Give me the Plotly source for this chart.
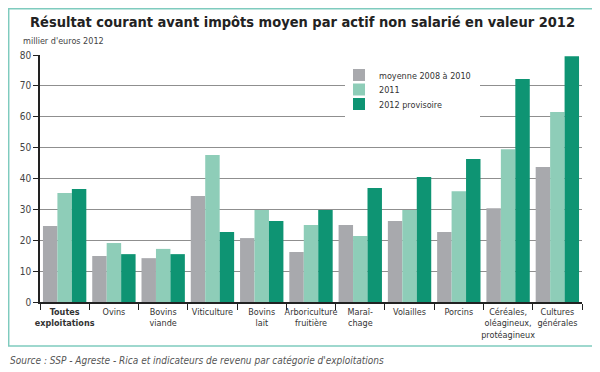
import plotly.graph_objects as go

categories = ["<b>Toutes<br>exploitations</b>", "Ovins", "Bovins<br>viande", "Viticulture", "Bovins<br>lait",
              "Arboriculture<br>fruitière", "Maraî-<br>chage", "Volailles", "Porcins",
              "Céréales,<br>oléagineux,<br>protéagineux", "Cultures<br>générales"]
series_names = ["moyenne 2008 à 2010", "2011", "2012 provisoire"]
moyenne = [24.6, 14.9, 14.2, 34.3, 20.7, 16.2, 24.9, 26.2, 22.7, 30.4, 43.7]
v2011 = [35.3, 19.1, 17.2, 47.6, 29.8, 24.9, 21.4, 29.8, 35.9, 49.5, 61.5]
v2012 = [36.6, 15.5, 15.5, 22.7, 26.2, 29.8, 36.9, 40.5, 46.3, 72.2, 79.6]
colors = ["#A8A9AD", "#8ECDB8", "#0E9473"]
yticks = [0, 10, 20, 30, 40, 50, 60, 70, 80]

FONT = "DejaVu Sans Condensed"
OFF = 8  # page body margin offset
W, H = 600 - OFF, 372 - OFF
L, R, T, B = 40 - OFF, 18, 55 - OFF, 70
pw, ph = W - L - R, H - T - B

def px(x):
    return (x - OFF - L) / pw

def py(y):
    return (H - B - (y - OFF)) / ph

legend_ids = ["legend", "legend2", "legend3"]
legend_rows = [75, 89.5, 104]

fig = go.Figure()
for name, vals, c, lg in zip(series_names, [moyenne, v2011, v2012], colors, legend_ids):
    fig.add_trace(go.Bar(x=categories, y=vals, name=name, legend=lg,
                         marker=dict(color=c, line=dict(width=0))))

legend_common = dict(xanchor="left", yanchor="middle", bgcolor="rgba(0,0,0,0)",
                     font=dict(size=9, color="#333333", family=FONT),
                     itemwidth=30, borderwidth=0)

fig.update_layout(
    width=W, height=H,
    margin=dict(l=L, r=R, t=T, b=B),
    paper_bgcolor="white", plot_bgcolor="white",
    barmode="group", bargap=0.12, bargroupgap=0,
    font=dict(family=FONT, size=10, color="#333333"),
    showlegend=True,
    legend=dict(x=px(339), y=py(legend_rows[0]), **legend_common),
    legend2=dict(x=px(339), y=py(legend_rows[1]), **legend_common),
    legend3=dict(x=px(339), y=py(legend_rows[2]), **legend_common),
    xaxis=dict(type="category", showline=True, linecolor="#222222", linewidth=1.5,
               ticks="outside", tickson="boundaries", ticklen=6, tickcolor="#222222",
               tickangle=0,
               tickfont=dict(size=9, color="#333333"), showgrid=False),
    yaxis=dict(range=[0, 80], tickvals=yticks, showline=True, linecolor="#222222", linewidth=1.5,
               ticks="outside", ticklen=5, tickcolor="#222222",
               showgrid=True, gridcolor="#8f8f8f", gridwidth=1.3,
               tickfont=dict(size=10, color="#444444"), zeroline=False),
    annotations=[
        dict(text="<b>Résultat courant avant impôts moyen par actif non salarié en valeur 2012</b>",
             xref="paper", yref="paper", x=px(302), y=py(22), xanchor="center", yanchor="middle",
             showarrow=False, font=dict(size=14.5, color="#222222", family=FONT)),
        dict(text="millier d'euros 2012", xref="paper", yref="paper", x=px(21), y=py(41),
             xanchor="left", yanchor="middle", showarrow=False,
             font=dict(size=9, color="#444444", family=FONT)),
        dict(text="<i>Source : SSP - Agreste - Rica et indicateurs de revenu par catégorie d'exploitations</i>",
             xref="paper", yref="paper", x=px(8), y=py(360), xanchor="left", yanchor="middle",
             showarrow=False, font=dict(size=10, color="#555555", family=FONT)),
    ],
    shapes=[
        dict(type="rect", xref="paper", yref="paper", x0=px(8.7), x1=px(596), y0=py(346), y1=py(8.7),
             line=dict(color="#7FCBBE", width=1.5), fillcolor="rgba(0,0,0,0)", layer="below"),
        dict(type="rect", xref="paper", yref="paper", x0=px(345), x1=px(480), y0=py(122), y1=py(62),
             line=dict(width=0), fillcolor="white", layer="above"),
    ],
)

fig.write_html("out.html")
